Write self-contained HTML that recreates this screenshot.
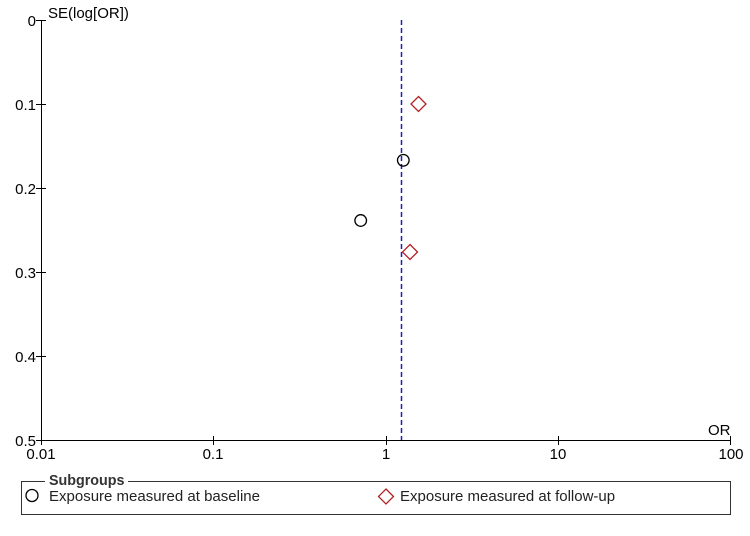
<!DOCTYPE html>
<html><head><meta charset="utf-8"><style>
html,body{margin:0;padding:0;background:#fff;}
svg{display:block;font-family:"Liberation Sans",Arial,sans-serif;}
</style></head><body>
<svg width="750" height="536" viewBox="0 0 750 536" xmlns="http://www.w3.org/2000/svg">
<g stroke="#000" stroke-width="1" fill="none">
<line x1="41.5" y1="20" x2="41.5" y2="440.5"/>
<line x1="41" y1="440.5" x2="731" y2="440.5"/>
<line x1="36" y1="20.5" x2="46" y2="20.5"/>
<line x1="36" y1="104.5" x2="46" y2="104.5"/>
<line x1="36" y1="188.5" x2="46" y2="188.5"/>
<line x1="36" y1="272.5" x2="46" y2="272.5"/>
<line x1="36" y1="356.5" x2="46" y2="356.5"/>
<line x1="36" y1="440.5" x2="46" y2="440.5"/>
<line x1="41.5" y1="436" x2="41.5" y2="445"/>
<line x1="213.5" y1="436" x2="213.5" y2="445"/>
<line x1="386.5" y1="436" x2="386.5" y2="445"/>
<line x1="558.5" y1="436" x2="558.5" y2="445"/>
<line x1="730.5" y1="436" x2="730.5" y2="445"/>
</g>
<g font-size="15" fill="#000" text-anchor="end">
<text x="36" y="26">0</text>
<text x="36" y="110">0.1</text>
<text x="36" y="194">0.2</text>
<text x="36" y="278">0.3</text>
<text x="36" y="362">0.4</text>
<text x="36" y="446">0.5</text>
</g>
<text x="48" y="18" font-size="15">SE(log[OR])</text>
<g font-size="15" text-anchor="middle">
<text x="41" y="459">0.01</text>
<text x="213" y="459">0.1</text>
<text x="386" y="459">1</text>
<text x="558" y="459">10</text>
<text x="731" y="459">100</text>
</g>
<text x="708" y="435" font-size="15">OR</text>
<line x1="401.5" y1="20" x2="401.5" y2="440" stroke="#2020b8" stroke-width="1.5" stroke-dasharray="5,3"/>
<g fill="none" stroke-width="1.3">
<circle cx="403.3" cy="160.3" r="5.8" stroke="#000"/>
<circle cx="360.7" cy="220.5" r="5.8" stroke="#000"/>
<polygon points="418.5,96.5 426,104 418.5,111.5 411,104" stroke="#b22222"/>
<polygon points="410,244.5 417.5,252 410,259.5 402.5,252" stroke="#b22222"/>
</g>
<g stroke="#333" stroke-width="1" fill="none">
<polyline points="45,481.5 21.5,481.5 21.5,514.5 730.5,514.5 730.5,481.5 128,481.5"/>
</g>
<text x="49" y="485" font-size="14.3" font-weight="bold" fill="#333">Subgroups</text>
<circle cx="32" cy="495.5" r="6" fill="none" stroke="#000" stroke-width="1.3"/>
<text x="49" y="501" font-size="15" fill="#222">Exposure measured at baseline</text>
<polygon points="386,489 393.5,496.5 386,504 378.5,496.5" fill="none" stroke="#b22222" stroke-width="1.3"/>
<text x="400" y="501" font-size="15" fill="#222">Exposure measured at follow-up</text>
</svg>
</body></html>
